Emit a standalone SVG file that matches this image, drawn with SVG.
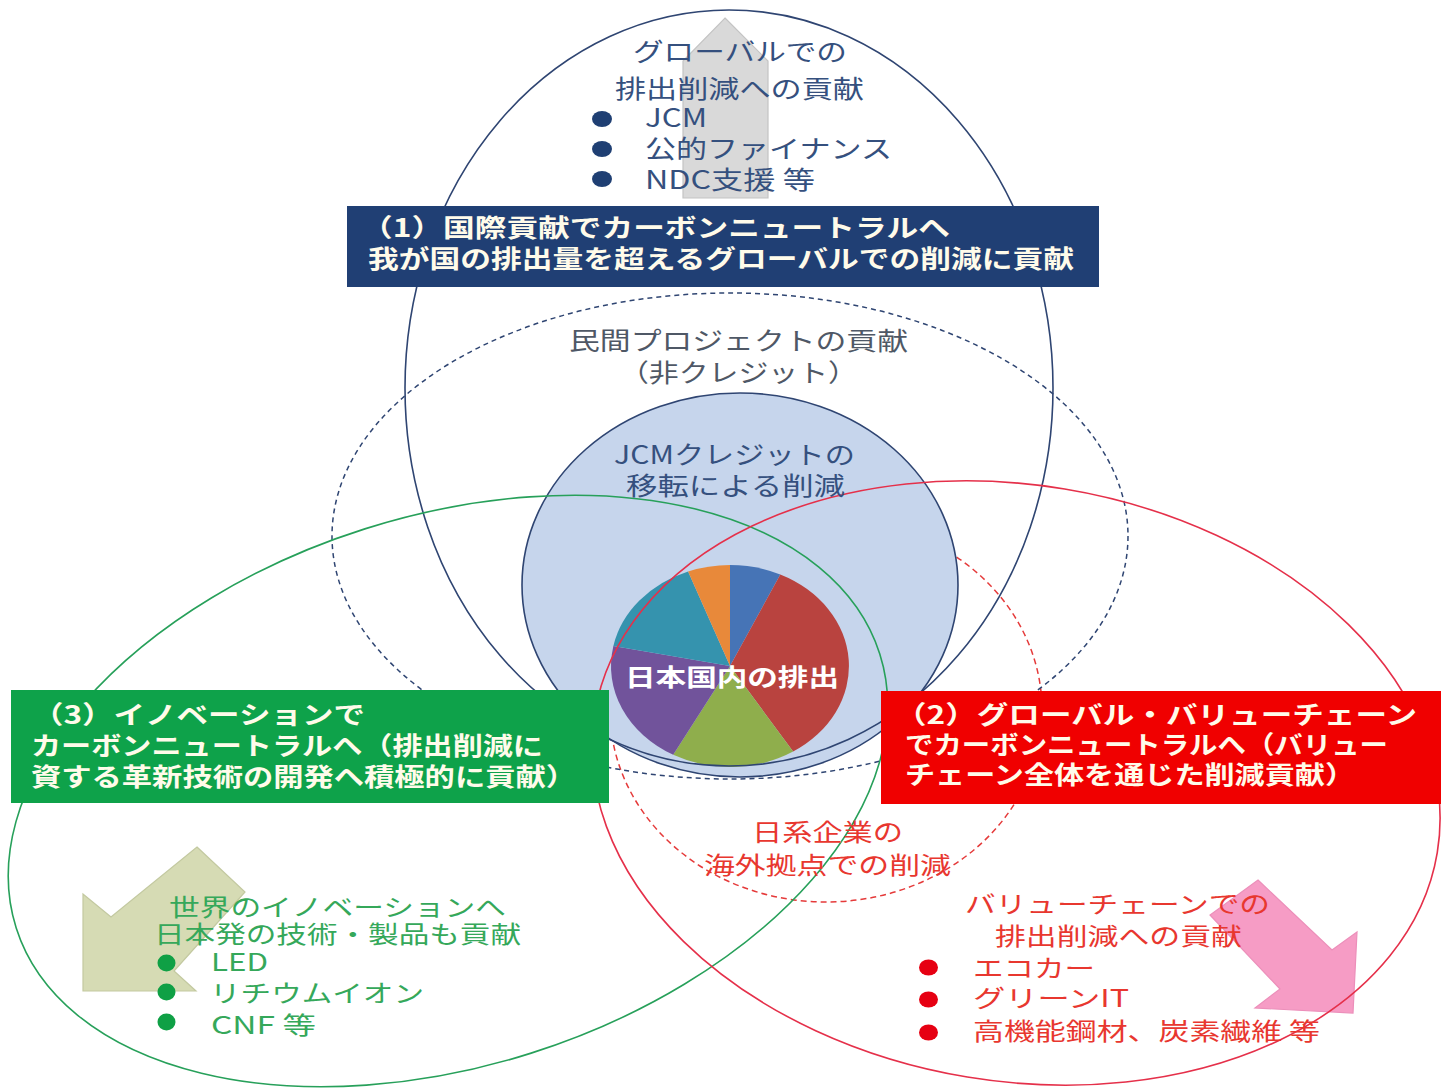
<svg xmlns="http://www.w3.org/2000/svg" width="1441" height="1089" viewBox="0 0 1441 1089">
<defs>
<style>
text{font-family:"Noto Sans CJK JP","Noto Sans",sans-serif;}
.b{font-weight:700;}
.w{fill:#fffbea;font-size:25px;}
.navy{fill:#35507e;font-size:25px;}
.gray{fill:#4f5866;font-size:25px;}
.grn{fill:#35a85a;font-size:24px;}
.red{fill:#e8372f;font-size:24px;}
.o-navy{fill:none;stroke:#2f4572;stroke-width:1.6;}
.o-dash{fill:none;stroke:#2f4572;stroke-width:1.5;stroke-dasharray:5 4;}
.o-green{fill:none;stroke:#27a05a;stroke-width:1.6;}
.o-red{fill:none;stroke:#e5304a;stroke-width:1.6;}
.o-rdash{fill:none;stroke:#e53a3a;stroke-width:1.5;stroke-dasharray:6 4;}
</style>
</defs>
<rect x="0" y="0" width="1441" height="1089" fill="#ffffff"/>

<g id="node-overseas-circle">
<ellipse class="o-rdash" cx="826" cy="710" rx="216" ry="192"/>
</g>

<g id="node-jcm-credit">
<ellipse cx="740" cy="585" rx="218" ry="192" fill="#c6d5ec" stroke="#2f4572" stroke-width="1.6"/>
</g>

<g id="node-pie">
<path d="M730,666 L730,565 A119,101 0 0 1 780.3,574.5 Z" fill="#4674b6"/>
<path d="M730,666 L780.3,574.5 A119,101 0 0 1 793.1,751.6 Z" fill="#b9433f"/>
<path d="M730,666 L793.1,751.6 A119,101 0 0 1 673.2,754.8 Z" fill="#8fae4c"/>
<path d="M730,666 L673.2,754.8 A119,101 0 0 1 613.4,645.9 Z" fill="#71539b"/>
<path d="M730,666 L613.4,645.9 A119,101 0 0 1 688.1,571.5 Z" fill="#3593ae"/>
<path d="M730,666 L688.1,571.5 A119,101 0 0 1 730,565 Z" fill="#e8893a"/>
<text class="b" x="625" y="686" font-size="24" fill="#ffffff" textLength="214" lengthAdjust="spacingAndGlyphs">日本国内の排出</text>
</g>

<g id="arrows">
<polygon points="725,18 768,61 768,198 683,198 683,61" fill="#d9d9d9" stroke="#c4c4c4" stroke-width="1.2"/>
<polygon points="197,847 245,892 174,971 196,991 83,991 83,894 111,917" fill="#d6dbb4" stroke="#c3c9a0" stroke-width="1.2"/>
<polygon points="1258,880 1332,950 1357,932 1353,1013 1255,1008 1280,989 1210,915" fill="#f69cc5" stroke="#ec8fba" stroke-width="1.2"/>
</g>

<g id="outlines">
<ellipse class="o-navy" cx="729" cy="388" rx="324" ry="378"/>
<ellipse class="o-dash" cx="730" cy="536" rx="398" ry="243"/>
<ellipse class="o-green" cx="448" cy="791" rx="453" ry="275" transform="rotate(-17.6 448 791)"/>
<ellipse class="o-red" cx="1016" cy="783" rx="427" ry="298" transform="rotate(9.4 1016 783)"/>
</g>

<g id="node-global">
<ellipse cx="602" cy="119" rx="10" ry="8" fill="#1f3f73"/>
<ellipse cx="602" cy="149" rx="10" ry="8" fill="#1f3f73"/>
<ellipse cx="602" cy="179" rx="10" ry="8" fill="#1f3f73"/>
<text class="navy"><tspan x="633" y="61" textLength="214" lengthAdjust="spacingAndGlyphs">グローバルでの</tspan><tspan x="615" y="98" textLength="249" lengthAdjust="spacingAndGlyphs">排出削減への貢献</tspan><tspan x="645" y="127" textLength="62" lengthAdjust="spacingAndGlyphs">JCM</tspan><tspan x="645" y="158" textLength="247" lengthAdjust="spacingAndGlyphs">公的ファイナンス</tspan><tspan x="645" y="189" textLength="170" lengthAdjust="spacingAndGlyphs">NDC支援 等</tspan></text>
</g>

<g id="node-box1">
<rect x="347" y="206" width="752" height="81" fill="#203f74"/>
<text class="w b"><tspan x="361" y="237" textLength="589" lengthAdjust="spacingAndGlyphs">（1）国際貢献でカーボンニュートラルへ</tspan><tspan x="368" y="268" textLength="706" lengthAdjust="spacingAndGlyphs">我が国の排出量を超えるグローバルでの削減に貢献</tspan></text>
</g>

<g id="node-private">
<text class="gray"><tspan x="569" y="350" textLength="339" lengthAdjust="spacingAndGlyphs">民間プロジェクトの貢献</tspan><tspan x="619" y="382" textLength="239" lengthAdjust="spacingAndGlyphs">（非クレジット）</tspan></text>
</g>

<g id="node-jcm-text">
<text class="navy"><tspan x="614" y="464" textLength="241" lengthAdjust="spacingAndGlyphs">JCMクレジットの</tspan><tspan x="626" y="495" textLength="219" lengthAdjust="spacingAndGlyphs">移転による削減</tspan></text>
</g>

<g id="node-box3">
<rect x="11" y="690" width="598" height="113" fill="#0ea24a"/>
<text class="w b"><tspan x="32" y="724" textLength="333" lengthAdjust="spacingAndGlyphs">（3）イノベーションで</tspan><tspan x="31" y="755" textLength="512" lengthAdjust="spacingAndGlyphs">カーボンニュートラルへ（排出削減に</tspan><tspan x="31" y="786" textLength="545" lengthAdjust="spacingAndGlyphs">資する革新技術の開発へ積極的に貢献）</tspan></text>
</g>

<g id="node-box2">
<rect x="881" y="691" width="560" height="113" fill="#f00000"/>
<text class="w b"><tspan x="895" y="724" textLength="522" lengthAdjust="spacingAndGlyphs">（2）グローバル・バリューチェーン</tspan><tspan x="905" y="754" textLength="483" lengthAdjust="spacingAndGlyphs">でカーボンニュートラルへ（バリュー</tspan><tspan x="905" y="784" textLength="450" lengthAdjust="spacingAndGlyphs">チェーン全体を通じた削減貢献）</tspan></text>
</g>

<g id="node-overseas-text">
<text class="red"><tspan x="752" y="841" textLength="151" lengthAdjust="spacingAndGlyphs">日系企業の</tspan><tspan x="704" y="874" textLength="247" lengthAdjust="spacingAndGlyphs">海外拠点での削減</tspan></text>
</g>

<g id="node-innovation">
<ellipse cx="166.5" cy="963" rx="9" ry="8.5" fill="#0fa045"/>
<ellipse cx="166.5" cy="992" rx="9" ry="8.5" fill="#0fa045"/>
<ellipse cx="166.5" cy="1022" rx="9" ry="8.5" fill="#0fa045"/>
<text class="grn"><tspan x="169" y="916" textLength="337" lengthAdjust="spacingAndGlyphs">世界のイノベーションへ</tspan><tspan x="154" y="943" textLength="367" lengthAdjust="spacingAndGlyphs">日本発の技術・製品も貢献</tspan><tspan x="211" y="971" textLength="57" lengthAdjust="spacingAndGlyphs">LED</tspan><tspan x="210" y="1002" textLength="214" lengthAdjust="spacingAndGlyphs">リチウムイオン</tspan><tspan x="211" y="1034" textLength="105" lengthAdjust="spacingAndGlyphs">CNF 等</tspan></text>
</g>

<g id="node-valuechain">
<ellipse cx="928.5" cy="967.5" rx="9.5" ry="8" fill="#e60012"/>
<ellipse cx="928.5" cy="999.5" rx="9.5" ry="8" fill="#e60012"/>
<ellipse cx="928.5" cy="1032.5" rx="9.5" ry="8" fill="#e60012"/>
<text class="red"><tspan x="965" y="913" textLength="305" lengthAdjust="spacingAndGlyphs">バリューチェーンでの</tspan><tspan x="995" y="945" textLength="247" lengthAdjust="spacingAndGlyphs">排出削減への貢献</tspan><tspan x="973" y="977" textLength="122" lengthAdjust="spacingAndGlyphs">エコカー</tspan><tspan x="973" y="1007" textLength="156" lengthAdjust="spacingAndGlyphs">グリーンIT</tspan><tspan x="973" y="1040" textLength="347" lengthAdjust="spacingAndGlyphs">高機能鋼材、炭素繊維 等</tspan></text>
</g>
</svg>
